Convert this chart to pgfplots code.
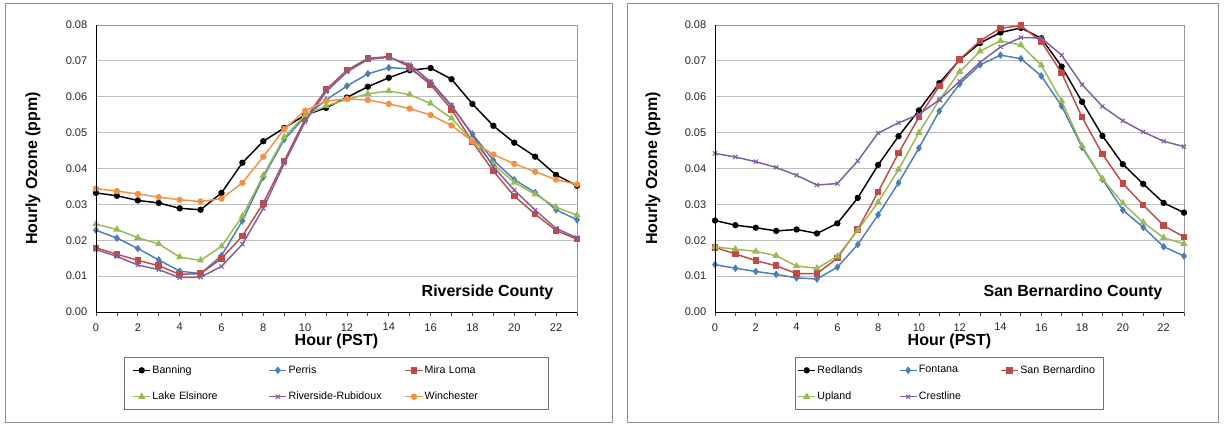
\documentclass[border=0pt]{standalone}
\usepackage{fontspec}
\setmainfont{Liberation Sans}
\usepackage{pgfplots}
\usepackage{pgfplotstable}
\pgfplotsset{compat=1.18}
\definecolor{xblue}{HTML}{4A7EBB}
\definecolor{xred}{HTML}{BE4B48}
\definecolor{xgreen}{HTML}{98B954}
\definecolor{xpurple}{HTML}{7D60A0}
\definecolor{xorange}{HTML}{F39143}
\definecolor{framegray}{HTML}{8C8C8C}

\pgfplotstableread{
h ban per mir lak riv win
0 0.0332 0.0228 0.0179 0.0245 0.0174 0.0344
1 0.0324 0.0206 0.0161 0.0230 0.0155 0.0337
2 0.0311 0.0177 0.0144 0.0207 0.0131 0.0329
3 0.0304 0.0145 0.0129 0.0190 0.0118 0.0320
4 0.0289 0.0114 0.0105 0.0153 0.0096 0.0313
5 0.0285 0.0107 0.0107 0.0144 0.0097 0.0308
6 0.0332 0.0157 0.0149 0.0183 0.0127 0.0316
7 0.0416 0.0254 0.0212 0.0267 0.0189 0.0360
8 0.0476 0.0376 0.0303 0.0381 0.0289 0.0433
9 0.0513 0.0481 0.0421 0.0487 0.0414 0.0510
10 0.0549 0.0544 0.0538 0.0549 0.0530 0.0561
11 0.0569 0.0591 0.0620 0.0574 0.0614 0.0588
12 0.0598 0.0630 0.0674 0.0593 0.0669 0.0594
13 0.0628 0.0664 0.0707 0.0608 0.0704 0.0591
14 0.0653 0.0681 0.0712 0.0616 0.0710 0.0580
15 0.0674 0.0678 0.0683 0.0606 0.0690 0.0567
16 0.0680 0.0639 0.0633 0.0581 0.0642 0.0549
17 0.0649 0.0574 0.0565 0.0540 0.0576 0.0520
18 0.0580 0.0496 0.0474 0.0476 0.0493 0.0476
19 0.0519 0.0423 0.0393 0.0412 0.0405 0.0439
20 0.0472 0.0369 0.0323 0.0361 0.0340 0.0413
21 0.0433 0.0333 0.0273 0.0328 0.0284 0.0391
22 0.0382 0.0285 0.0227 0.0292 0.0233 0.0369
23 0.0352 0.0257 0.0203 0.0270 0.0207 0.0356
}\leftdata

\pgfplotstableread{
h red fon sb upl cre
0 0.0255 0.0132 0.0180 0.0182 0.0442
1 0.0242 0.0122 0.0162 0.0175 0.0432
2 0.0235 0.0113 0.0143 0.0169 0.0419
3 0.0226 0.0105 0.0129 0.0157 0.0403
4 0.0230 0.0095 0.0107 0.0128 0.0381
5 0.0219 0.0092 0.0107 0.0122 0.0354
6 0.0247 0.0125 0.0150 0.0155 0.0358
7 0.0318 0.0188 0.0230 0.0228 0.0421
8 0.0410 0.0271 0.0335 0.0306 0.0499
9 0.0490 0.0360 0.0443 0.0397 0.0527
10 0.0562 0.0457 0.0543 0.0500 0.0551
11 0.0638 0.0560 0.0630 0.0591 0.0591
12 0.0703 0.0636 0.0704 0.0670 0.0643
13 0.0750 0.0689 0.0756 0.0727 0.0696
14 0.0779 0.0716 0.0791 0.0756 0.0739
15 0.0792 0.0706 0.0798 0.0744 0.0765
16 0.0763 0.0658 0.0754 0.0688 0.0764
17 0.0684 0.0574 0.0666 0.0588 0.0716
18 0.0586 0.0459 0.0543 0.0463 0.0634
19 0.0491 0.0370 0.0440 0.0371 0.0573
20 0.0412 0.0284 0.0358 0.0303 0.0533
21 0.0357 0.0236 0.0298 0.0250 0.0502
22 0.0304 0.0182 0.0241 0.0207 0.0476
23 0.0277 0.0156 0.0209 0.0190 0.0461
}\rightdata

\pgfplotsset{
  ozone/.style={
    scale only axis,
    height=215.25pt,
    xmin=0, xmax=23, ymin=0, ymax=0.08,
    xtick={0,2,...,22},
    minor xtick={1,3,...,23},
    ytick={0,0.01,...,0.08},
    scaled y ticks=false,
    yticklabel style={/pgf/number format/.cd, fixed, fixed zerofill, precision=2},
    xticklabel style={yshift=-2pt},
    /pgf/number format/assume math mode=true,
    tick label style={font=\fontsize{8.3}{10}\selectfont, text=black!85},
    tick align=outside,
    xtick pos=bottom, ytick pos=left,
    major x tick style={black!70, line width=0.6pt},
    minor x tick style={black!70, line width=0.6pt},
    major y tick style={draw=none},
    major tick length=3pt, minor tick length=3pt,
    ymajorgrids,
    grid style={black!25, line width=0.7pt},
    axis line style={black!40, line width=0.7pt},
    clip mode=individual,
    xlabel={Hour (PST)},
    ylabel={Hourly Ozone (ppm)},
    label style={font=\bfseries\fontsize{12}{14}\selectfont},
    xlabel style={at={(axis description cs:0.5,-0.104)}, anchor=center},
    ylabel style={anchor=center},
    every axis plot/.append style={line width=1.1pt},
    legend columns=3,
    legend cell align=left,
    legend image code/.code={\draw[mark repeat=2,mark phase=2,#1] plot coordinates {(0pt,0pt) (6.5pt,0pt) (13pt,0pt)};},
    legend style={font=\fontsize{8}{9.6}\selectfont, draw=black!55, line width=0.6pt,
      at={(0.5,-0.157)}, anchor=north, inner ysep=4pt, row sep=8.5pt,
      nodes={inner xsep=1pt}},
    after end axis/.code={\draw[black, line width=0.75pt] (rel axis cs:0,1) -- (rel axis cs:0,0) -- (rel axis cs:1,0);},
  },
}

\begin{document}
\begin{tikzpicture}
\path (0pt,0pt) rectangle (918pt,318.75pt);
\draw[framegray, line width=0.7pt] (3.75pt,2.25pt) rectangle (459pt,316.5pt);
\draw[framegray, line width=0.7pt] (470.25pt,2.25pt) rectangle (913.5pt,316.5pt);

\begin{axis}[ozone, width=360.75pt, at={(72pt,84.75pt)}, anchor=south west,
  ylabel style={at={(axis description cs:-0.131,0.5)}},
  legend style={inner xsep=6pt, /tikz/every even column/.append style={text width=86pt}}]
\addplot[black, mark=*, mark size=1.8pt, mark options={solid, fill=black}] table[x=h,y=ban]{\leftdata};
\addlegendentry{Banning}
\addplot[xblue, mark=diamond*, mark size=2pt, mark options={solid, fill=xblue}] table[x=h,y=per]{\leftdata};
\addlegendentry{Perris}
\addplot[xred, mark=square*, mark size=1.9pt, mark options={solid, fill=xred}] table[x=h,y=mir]{\leftdata};
\addlegendentry{Mira Loma}
\addplot[xgreen, mark=triangle*, mark size=2.1pt, mark options={solid, fill=xgreen}] table[x=h,y=lak]{\leftdata};
\addlegendentry{Lake Elsinore}
\addplot[xpurple, mark=x, mark size=2.2pt, mark options={solid, line width=0.8pt}] table[x=h,y=riv]{\leftdata};
\addlegendentry{Riverside-Rubidoux}
\addplot[xorange, mark=*, mark size=1.8pt, mark options={solid, fill=xorange}] table[x=h,y=win]{\leftdata};
\addlegendentry{Winchester}
\node[anchor=east, font=\bfseries\fontsize{12}{14}\selectfont] at (rel axis cs:0.9605,0.07) {Riverside County};
\end{axis}

\begin{axis}[ozone, width=351.75pt, at={(536.25pt,84.75pt)}, anchor=south west,
  ylabel style={at={(axis description cs:-0.132,0.5)}},
  legend style={inner xsep=1.5pt, /tikz/every even column/.append style={text width=60pt}}]
\addplot[black, mark=*, mark size=1.8pt, mark options={solid, fill=black}] table[x=h,y=red]{\rightdata};
\addlegendentry{Redlands}
\addplot[xblue, mark=diamond*, mark size=2pt, mark options={solid, fill=xblue}] table[x=h,y=fon]{\rightdata};
\addlegendentry{Fontana}
\addplot[xred, mark=square*, mark size=1.9pt, mark options={solid, fill=xred}] table[x=h,y=sb]{\rightdata};
\addlegendentry{San Bernardino}
\addplot[xgreen, mark=triangle*, mark size=2.1pt, mark options={solid, fill=xgreen}] table[x=h,y=upl]{\rightdata};
\addlegendentry{Upland}
\addplot[xpurple, mark=x, mark size=2.2pt, mark options={solid, line width=0.8pt}] table[x=h,y=cre]{\rightdata};
\addlegendentry{Crestline}
\node[anchor=east, font=\bfseries\fontsize{12}{14}\selectfont] at (rel axis cs:0.9638,0.07) {San Bernardino County};
\end{axis}
\end{tikzpicture}
\end{document}
